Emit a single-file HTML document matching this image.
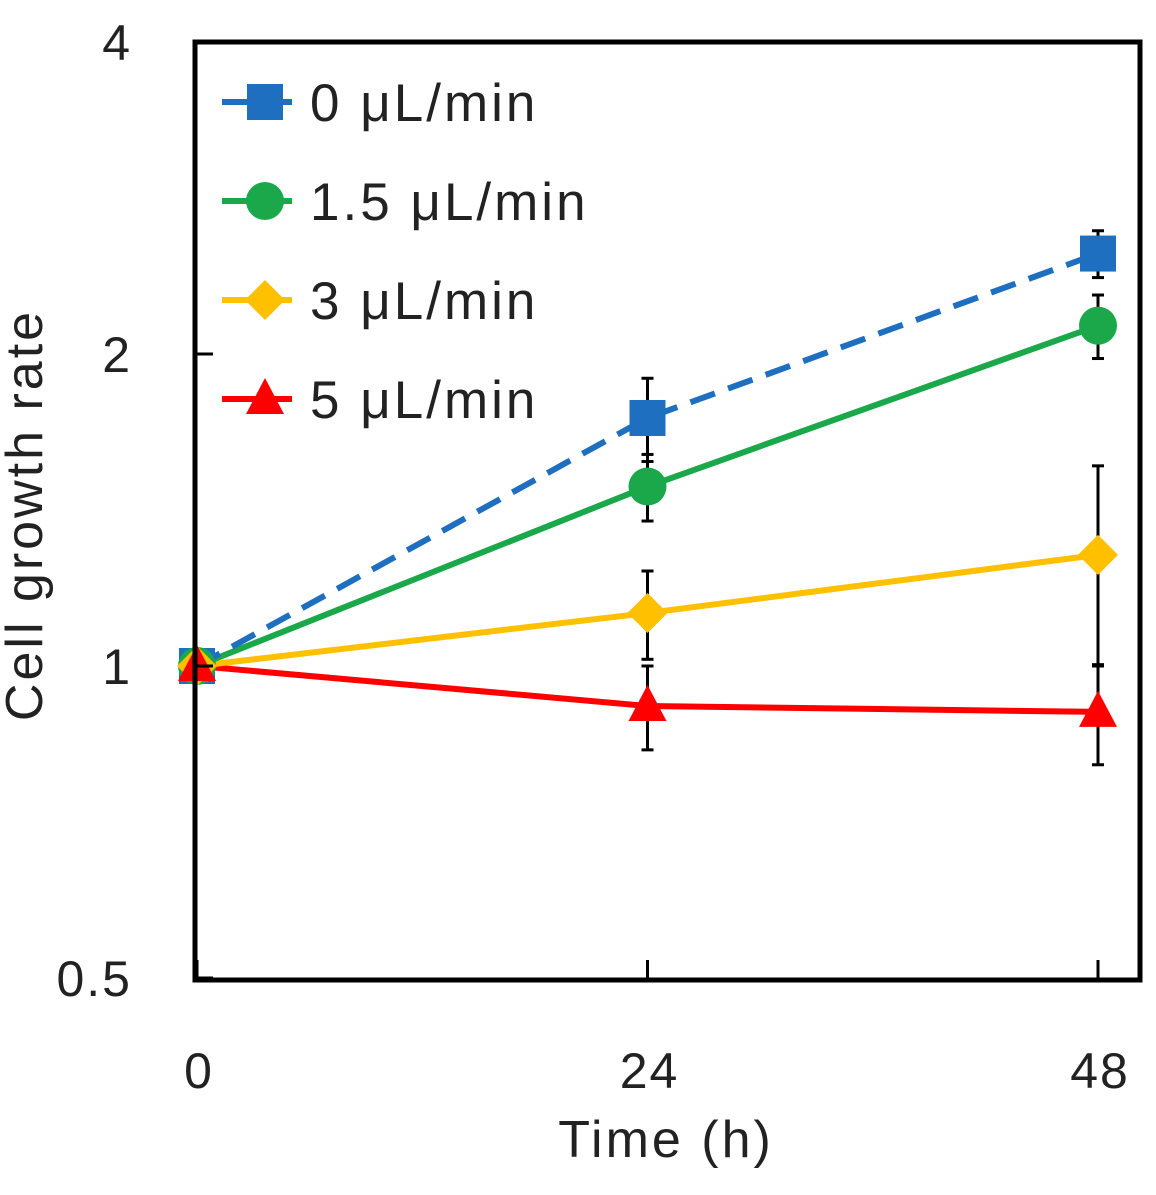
<!DOCTYPE html>
<html><head><meta charset="utf-8"><style>
body{margin:0;background:#fff;}
text{font-family:"Liberation Sans","DejaVu Sans",sans-serif;}
</style></head><body>
<svg id="chart" width="1156" height="1190" viewBox="0 0 1156 1190" xmlns="http://www.w3.org/2000/svg">
<rect width="1156" height="1190" fill="#fff"/>
<g id="marks"></g>
<rect x="195" y="42" width="945" height="938" fill="none" stroke="#000" stroke-width="5"/>
<g id="axes"></g>
<text x="42" y="515" font-size="52" letter-spacing="3" text-anchor="middle" transform="rotate(-90 42 515)" fill="#222">Cell growth rate</text>
<text x="666" y="1157" font-size="52" letter-spacing="3" text-anchor="middle" fill="#222">Time (h)</text>
<g id="legend"></g>
</svg>
<script>
const times=[0,24,48];
const seriesNames=["0 μL/min","1.5 μL/min","3 μL/min","5 μL/min"];
const s0=[1,1.735,2.50];
const s1=[1,1.49,2.13];
const s2=[1,1.125,1.28];
const s3=[1,0.915,0.903];
const e0=[0,0.16,0.13];
const e1=[0,0.11,0.15];
const e2=[0,0.11,0.28];
const e3=[0,0.085,0.10];
const yTicks=[0.5,1,2,4];
const yTickLabels=["0.5","1","2","4"];
const xTickLabels=["0","24","48"];

const NS="http://www.w3.org/2000/svg";
function X(t){return 197+t*(1098-197)/48;}
function Y(v){return 666-Math.log2(v)*312;}
function mk(tag,attrs,parent){const e=document.createElementNS(NS,tag);for(const k in attrs)e.setAttribute(k,attrs[k]);parent.appendChild(e);return e;}
const marks=document.getElementById('marks'),axes=document.getElementById('axes'),legend=document.getElementById('legend');
const colors=["#1f6fc0","#1aa84a","#ffc000","#ff0000"];
const shapes=["square","circle","diamond","triangle"];
const data=[s0,s1,s2,s3],errs=[e0,e1,e2,e3];

function marker(shape,x,y,c,parent,name){
  let el;
  if(shape==="square")el=mk('rect',{x:x-18,y:y-18,width:36,height:36,fill:c},parent);
  else if(shape==="circle")el=mk('circle',{cx:x,cy:y,r:19,fill:c},parent);
  else if(shape==="diamond")el=mk('polygon',{points:`${x},${y-20} ${x+20},${y} ${x},${y+20} ${x-20},${y}`,fill:c},parent);
  else el=mk('polygon',{points:`${x},${y-21} ${x+19},${y+15} ${x-19},${y+15}`,fill:c},parent);
  
  
}
yTicks.forEach((v,i)=>{
  const l=mk('line',{x1:195,x2:213,y1:Y(v),y2:Y(v),stroke:'#000','stroke-width':3},axes);
  
  
  const t=mk('text',{x:132,y:Y(v)+18,'font-size':50,'letter-spacing':2,'text-anchor':'end',fill:'#222'},axes);
  t.textContent=yTickLabels[i];
  
  
});
times.forEach((tv,i)=>{
  const l=mk('line',{x1:X(tv),x2:X(tv),y1:980,y2:960,stroke:'#000','stroke-width':3},axes);
  
  
  const t=mk('text',{x:X(tv)+2,y:1088,'font-size':50,'letter-spacing':2,'text-anchor':'middle',fill:'#222'},axes);
  t.textContent=xTickLabels[i];
  
  
});
data.forEach((s,k)=>{
  s.forEach((v,i)=>{
    const e=errs[k][i]; if(!e)return;
    const x=X(times[i]);
    const g=mk('g',{stroke:'#000','stroke-width':3},marks);
    
    
    mk('line',{x1:x,x2:x,y1:Y(v+e),y2:Y(v-e)},g);
    mk('line',{x1:x-6,x2:x+6,y1:Y(v+e),y2:Y(v+e)},g);
    mk('line',{x1:x-6,x2:x+6,y1:Y(v-e),y2:Y(v-e)},g);
  });
});
[3,2,1,0].forEach(k=>{
  const s=data[k];
  const pts=s.map((v,i)=>X(times[i])+","+Y(v)).join(" ");
  const pl=mk('polyline',{points:pts,fill:'none',stroke:colors[k],'stroke-width':6,'stroke-dasharray':k===0?'26,14':'none'},marks);
  
  
});
[0,1,2,3].forEach(k=>{
  data[k].forEach((v,i)=>marker(shapes[k],X(times[i]),Y(v),colors[k],marks,'data-point'));
});
seriesNames.forEach((n,k)=>{
  const y=102+k*99;
  const g=mk('g',{},legend);
  
  
  mk('line',{x1:222,x2:292,y1:y,y2:y,stroke:colors[k],'stroke-width':6},g);
  marker(shapes[k],265,y,colors[k],g,'legend-marker');
  const t=mk('text',{x:310,y:y+19,'font-size':53,'letter-spacing':3,fill:'#222'},g);
  t.textContent=n;
});
</script>
</body></html>
